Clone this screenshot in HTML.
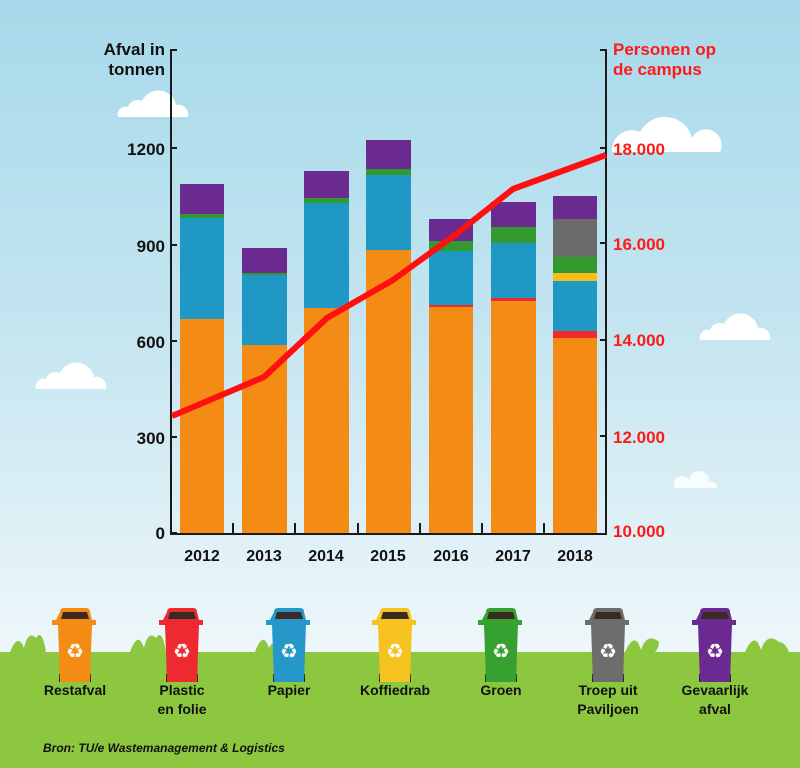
<!DOCTYPE html>
<html><head><meta charset="utf-8"><style>
html,body{margin:0;padding:0;width:800px;height:768px;overflow:hidden}
svg{display:block;font-family:"Liberation Sans",sans-serif}
</style></head><body>
<svg width="800" height="768" viewBox="0 0 800 768">
<defs>
<linearGradient id="sky" x1="0" y1="0" x2="0" y2="1">
<stop offset="0" stop-color="#a7d9ea"/><stop offset="0.5" stop-color="#c4e5f0"/><stop offset="1" stop-color="#eef7fa"/>
</linearGradient>
<g id="cloud"><path d="M0,0 h70 a10,10 0 0 0 -12,-12 a18,18 0 0 0 -34,-4 a10,10 0 0 0 -14,6 a8,8 0 0 0 -10,10z" fill="#fff"/></g>
<g id="bin">
<rect x="-16" y="62" width="4" height="8" fill="#222"/><rect x="12" y="62" width="4" height="8" fill="#222"/>
<path d="M-17,12 h34 l-2,58 h-30z" fill="currentColor"/>
<path d="M-15,0 q0,-4 4,-4 h22 q4,0 4,4 l2,8 h4 v5 h-44 v-5 h4z" fill="currentColor"/>
<path d="M-12,0 h24 l2,7 h-28z" fill="#3a2a22"/>
<text x="0" y="46" font-size="20" fill="#fff" text-anchor="middle">♻</text>
</g>
</defs>
<rect width="800" height="652" fill="url(#sky)"/>
<rect y="652" width="800" height="116" fill="#8dc63f"/>
<use href="#cloud" x="118" y="117"/><use href="#cloud" x="36" y="389"/><use href="#cloud" x="700" y="340"/>
<path d="M675,488 h42 a6,6 0 0 0 -8,-6 a10,10 0 0 0 -20,-2 a6,6 0 0 0 -14,8z" fill="#fff" opacity="0.8"/>
<path d="M612,152 a20,20 0 0 1 28,-20 a28,28 0 0 1 52,6 a14,14 0 0 1 28,14z" fill="#fff"/>
<!-- bars -->
<g>
<rect x="180" y="319" width="44" height="214" fill="#f48b15"/><rect x="180" y="218" width="44" height="101" fill="#1f98c5"/><rect x="180" y="214" width="44" height="4" fill="#339a30"/><rect x="180" y="184" width="44" height="30" fill="#6a2a8f"/>
<rect x="242" y="345" width="45" height="188" fill="#f48b15"/><rect x="242" y="274" width="45" height="71" fill="#1f98c5"/><rect x="242" y="273" width="45" height="2" fill="#339a30"/><rect x="242" y="248" width="45" height="25" fill="#6a2a8f"/>
<rect x="304" y="308" width="45" height="225" fill="#f48b15"/><rect x="304" y="203" width="45" height="105" fill="#1f98c5"/><rect x="304" y="198" width="45" height="5" fill="#339a30"/><rect x="304" y="171" width="45" height="27" fill="#6a2a8f"/>
<rect x="366" y="250" width="45" height="283" fill="#f48b15"/><rect x="366" y="175" width="45" height="75" fill="#1f98c5"/><rect x="366" y="169" width="45" height="6" fill="#339a30"/><rect x="366" y="140" width="45" height="29" fill="#6a2a8f"/>
<rect x="429" y="306" width="44" height="227" fill="#f48b15"/><rect x="429" y="305" width="44" height="2" fill="#ee2b2b"/><rect x="429" y="251" width="44" height="54" fill="#1f98c5"/><rect x="429" y="241" width="44" height="10" fill="#339a30"/><rect x="429" y="219" width="44" height="22" fill="#6a2a8f"/>
<rect x="491" y="301" width="45" height="232" fill="#f48b15"/><rect x="491" y="298" width="45" height="3" fill="#ee2b2b"/><rect x="491" y="243" width="45" height="55" fill="#1f98c5"/><rect x="491" y="227" width="45" height="16" fill="#339a30"/><rect x="491" y="202" width="45" height="25" fill="#6a2a8f"/>
<rect x="553" y="338" width="44" height="195" fill="#f48b15"/><rect x="553" y="331" width="44" height="7" fill="#ee2b2b"/><rect x="553" y="281" width="44" height="50" fill="#1f98c5"/><rect x="553" y="273" width="44" height="8" fill="#f6be1a"/><rect x="553" y="257" width="44" height="16" fill="#339a30"/><rect x="553" y="219" width="44" height="38" fill="#6b6b6b"/><rect x="553" y="196" width="44" height="23" fill="#6a2a8f"/>
</g>
<!-- axes -->
<g stroke="#1a1a1a" stroke-width="2" fill="none">
<path d="M177,50 h-6 V534 H606 V50 h-6"/>
<path d="M171,148 h6 M171,245 h6 M171,341 h6 M171,437 h6 M171,533 h6"/>
<path d="M606,148 h-6 M606,243 h-6 M606,340 h-6 M606,436 h-6"/>
<path d="M233,534 v-11 M295,534 v-11 M358,534 v-11 M420,534 v-11 M482,534 v-11 M544,534 v-11"/>
</g>
<polyline points="172,416 264,377 327,318 393,280 455,235 513,189 606,155" fill="none" stroke="#ff1010" stroke-width="6" stroke-linejoin="round"/>
<g font-size="17" fill="#111" text-anchor="end" font-weight="bold">
<text x="165" y="55">Afval in</text><text x="165" y="75">tonnen</text>
<text x="165" y="155">1200</text><text x="165" y="252">900</text><text x="165" y="348">600</text><text x="165" y="444">300</text><text x="165" y="539">0</text>
</g>
<g font-size="17" fill="#ff1a1a" font-weight="bold">
<text x="613" y="55">Personen op</text><text x="613" y="75">de campus</text>
<text x="613" y="155">18.000</text><text x="613" y="250">16.000</text><text x="613" y="346">14.000</text><text x="613" y="443">12.000</text><text x="613" y="537">10.000</text>
</g>
<g font-size="16" fill="#111" text-anchor="middle" font-weight="bold">
<text x="202" y="561">2012</text><text x="264" y="561">2013</text><text x="326" y="561">2014</text><text x="388" y="561">2015</text><text x="451" y="561">2016</text><text x="513" y="561">2017</text><text x="575" y="561">2018</text>
</g>
<!-- grass tufts -->
<g fill="#8dc63f">
<path d="M10,652 q8,-20 14,-4 q4,-18 12,-10 q6,-10 10,14z"/><path d="M130,652 q8,-22 14,-4 q4,-18 12,-10 q6,-10 10,14z"/><path d="M255,652 q8,-22 14,-4 q4,-10 10,4z"/>
<path d="M625,652 q10,-22 16,-2 q6,-18 18,-8 q0,6 -4,10z"/><path d="M745,652 q10,-22 16,-2 q6,-18 18,-8 q6,0 10,10z"/>
</g>
<g>
<use href="#bin" x="75" y="612" style="color:#f48b15"/>
<use href="#bin" x="182" y="612" style="color:#ec2a30"/>
<use href="#bin" x="289" y="612" style="color:#2597c8"/>
<use href="#bin" x="395" y="612" style="color:#f6c21f"/>
<use href="#bin" x="501" y="612" style="color:#36a031"/>
<use href="#bin" x="608" y="612" style="color:#6d6d6d"/>
<use href="#bin" x="715" y="612" style="color:#6a2a92"/>
</g>
<g font-size="14" fill="#111" text-anchor="middle" font-weight="bold">
<text x="75" y="695">Restafval</text>
<text x="182" y="695">Plastic</text><text x="182" y="714">en folie</text>
<text x="289" y="695">Papier</text>
<text x="395" y="695">Koffiedrab</text>
<text x="501" y="695">Groen</text>
<text x="608" y="695">Troep uit</text><text x="608" y="714">Paviljoen</text>
<text x="715" y="695">Gevaarlijk</text><text x="715" y="714">afval</text>
</g>
<text x="43" y="752" font-size="12" font-style="italic" font-weight="bold" fill="#111">Bron: TU/e Wastemanagement &amp; Logistics</text>
</svg>
</body></html>
